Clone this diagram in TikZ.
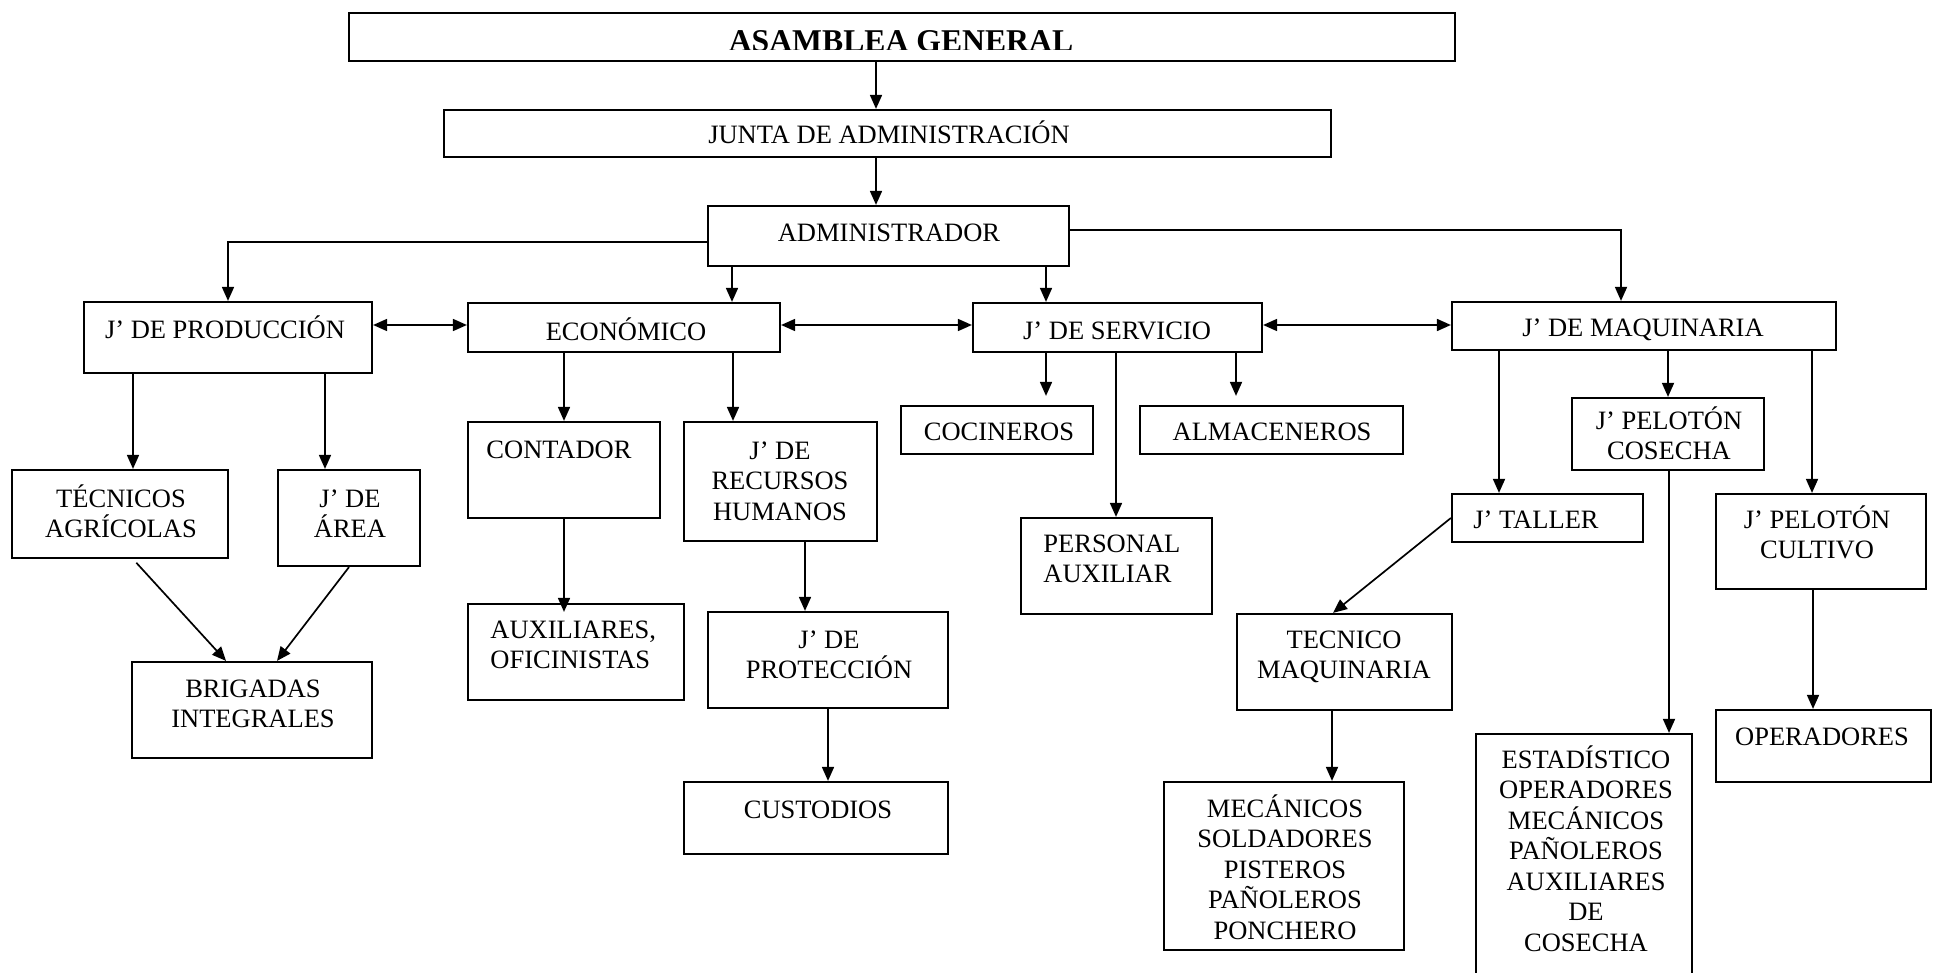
\documentclass[tikz,border=0pt]{standalone}
\usepackage{fontspec}
\setmainfont{Liberation Serif}
\usetikzlibrary{arrows.meta,fit}
\newcommand{\mlc}[1]{\vtop{\let\\\cr\baselineskip=15.25pt\lineskiplimit=-100pt\lineskip=0pt\halign{\hfil##\hfil\cr#1\crcr}}}
\newcommand{\mll}[1]{\vtop{\let\\\cr\baselineskip=15.25pt\lineskiplimit=-100pt\lineskip=0pt\halign{##\hfil\cr#1\crcr}}}
\begin{document}
\begin{tikzpicture}[x=0.5pt,y=-0.5pt,
  box/.style={draw, line width=1.1pt, inner sep=0pt, rectangle},
  txt/.style={inner sep=0pt, anchor=base, font=\fontsize{13.25pt}{15.25pt}\selectfont},
  txtl/.style={txt, anchor=base west},
  arr/.style={line width=0.85pt, -{Triangle[length=7pt,width=6pt]}},
  darr/.style={line width=0.85pt, {Triangle[length=7pt,width=6pt]}-{Triangle[length=7pt,width=6pt]}},
]
\clip (0,0) rectangle (1933,973);
\fill[white] (0,0) rectangle (1933,973);

% boxes
\node[box, fit={(349,13) (1455,61)}] (asam) {};
\node[box, fit={(444,110) (1331,157)}] (junta) {};
\node[box, fit={(708,206) (1069,266)}] (admin) {};
\node[box, fit={(84,302) (372,373)}] (prod) {};
\node[box, fit={(468,303) (780,352)}] (eco) {};
\node[box, fit={(973,303) (1262,352)}] (serv) {};
\node[box, fit={(1452,302) (1836,350)}] (maq) {};
\node[box, fit={(468,422) (660,518)}] (cont) {};
\node[box, fit={(684,422) (877,541)}] (rrhh) {};
\node[box, fit={(12,470) (228,558)}] (tecagr) {};
\node[box, fit={(278,470) (420,566)}] (area) {};
\node[box, fit={(132,662) (372,758)}] (brig) {};
\node[box, fit={(468,604) (684,700)}] (auxof) {};
\node[box, fit={(708,612) (948,708)}] (prot) {};
\node[box, fit={(684,782) (948,854)}] (cust) {};
\node[box, fit={(901,406) (1093,454)}] (coc) {};
\node[box, fit={(1140,406) (1403,454)}] (alm) {};
\node[box, fit={(1021,518) (1212,614)}] (pers) {};
\node[box, fit={(1572,398) (1764,470)}] (pelcos) {};
\node[box, fit={(1452,494) (1643,542)}] (taller) {};
\node[box, fit={(1716,494) (1926,589)}] (pelcul) {};
\node[box, fit={(1237,614) (1452,710)}] (tecmaq) {};
\node[box, fit={(1164,782) (1404,950)}] (mec) {};
\node[box, fit={(1476,734) (1692,990)}] (estad) {};
\node[box, fit={(1716,710) (1931,782)}] (oper) {};

% texts
\begin{scope}
\clip (349,13) rectangle (1455,50);
\node[txt, font=\fontsize{15.85pt}{18pt}\selectfont\bfseries] (asam-t) at (901,52) {ASAMBLEA GENERAL};
\end{scope}
\node[txt] (junta-t) at (889,144) {JUNTA DE ADMINISTRACIÓN};
\node[txt] (admin-t) at (889,242) {ADMINISTRADOR};
\node[txt] (prod-t) at (225,338) {J’ DE PRODUCCIÓN};
\node[txt] (eco-t) at (626,341) {ECONÓMICO};
\node[txt] (serv-t) at (1117,340) {J’ DE SERVICIO};
\node[txt] (maq-t) at (1643,336) {J’ DE MAQUINARIA};
\node[txt] (cont-t) at (559,458) {CONTADOR};
\node[txt] (rrhh-t) at (780,459) {\mlc{J’ DE\\RECURSOS\\HUMANOS}};
\node[txt] (tecagr-t) at (121,507) {\mlc{TÉCNICOS\\AGRÍCOLAS}};
\node[txt] (area-t) at (350,507) {\mlc{J’ DE\\ÁREA}};
\node[txt] (brig-t) at (253,697) {\mlc{BRIGADAS\\INTEGRALES}};
\node[txtl] (auxof-t) at (490,638) {\mll{AUXILIARES,\\OFICINISTAS}};
\node[txt] (prot-t) at (829,648) {\mlc{J’ DE\\PROTECCIÓN}};
\node[txt] (cust-t) at (818,818) {CUSTODIOS};
\node[txt] (coc-t) at (999,440) {COCINEROS};
\node[txt] (alm-t) at (1272,440) {ALMACENEROS};
\node[txtl] (pers-t) at (1043,552) {\mll{PERSONAL\\AUXILIAR}};
\node[txt] (pelcos-t) at (1669,429) {\mlc{J’ PELOTÓN\\COSECHA}};
\node[txt] (taller-t) at (1536,528) {J’ TALLER};
\node[txt] (pelcul-t) at (1817,528) {\mlc{J’ PELOTÓN\\CULTIVO}};
\node[txt] (tecmaq-t) at (1344,648) {\mlc{TECNICO\\MAQUINARIA}};
\node[txt] (mec-t) at (1285,817) {\mlc{MECÁNICOS\\SOLDADORES\\PISTEROS\\PAÑOLEROS\\PONCHERO}};
\node[txt] (estad-t) at (1586,768) {\mlc{ESTADÍSTICO\\OPERADORES\\MECÁNICOS\\PAÑOLEROS\\AUXILIARES\\DE\\COSECHA}};
\node[txt] (oper-t) at (1822,745) {OPERADORES};

% connectors
\draw[arr] (asam.south -| 876,0) -- (junta.north -| 876,0);
\draw[arr] (junta.south -| 876,0) -- (admin.north -| 876,0);
\draw[arr] (admin.west |- 0,242) -| (prod.north -| 228,0);
\draw[arr] (admin.east |- 0,230) -| (maq.north -| 1621,0);
\draw[arr] (admin.south -| 732,0) -- (eco.north -| 732,0);
\draw[arr] (admin.south -| 1046,0) -- (serv.north -| 1046,0);
\draw[darr] (prod.east |- 0,325) -- (eco.west |- 0,325);
\draw[darr] (eco.east |- 0,325) -- (serv.west |- 0,325);
\draw[darr] (serv.east |- 0,325) -- (maq.west |- 0,325);
\draw[arr] (prod.south -| 133,0) -- (tecagr.north -| 133,0);
\draw[arr] (prod.south -| 325,0) -- (area.north -| 325,0);
\draw[arr, shorten <=2.5pt] (tecagr.south -| 133,0) -- (brig.north -| 226,0);
\draw[arr] (area.south -| 349,0) -- (brig.north -| 277,0);
\draw[arr] (eco.south -| 564,0) -- (cont.north -| 564,0);
\draw[arr] (eco.south -| 733,0) -- (rrhh.north -| 733,0);
\draw[arr, shorten >=-4.5pt] (cont.south -| 564,0) -- (auxof.north -| 564,0);
\draw[arr] (rrhh.south -| 805,0) -- (prot.north -| 805,0);
\draw[arr] (prot.south -| 828,0) -- (cust.north -| 828,0);
\draw[arr, shorten >=4.5pt] (serv.south -| 1046,0) -- (coc.north -| 1046,0);
\draw[arr, shorten >=4.5pt] (serv.south -| 1236,0) -- (alm.north -| 1236,0);
\draw[arr] (serv.south -| 1116,0) -- (pers.north -| 1116,0);
\draw[arr] (maq.south -| 1499,0) -- (taller.north -| 1499,0);
\draw[arr] (maq.south -| 1668,0) -- (pelcos.north -| 1668,0);
\draw[arr] (maq.south -| 1812,0) -- (pelcul.north -| 1812,0);
\draw[arr] (taller.west) -- (tecmaq.north -| 1333,0);
\draw[arr] (tecmaq.south -| 1332,0) -- (mec.north -| 1332,0);
\draw[arr] (pelcos.south -| 1669,0) -- (estad.north -| 1669,0);
\draw[arr] (pelcul.south -| 1813,0) -- (oper.north -| 1813,0);
\end{tikzpicture}
\end{document}
